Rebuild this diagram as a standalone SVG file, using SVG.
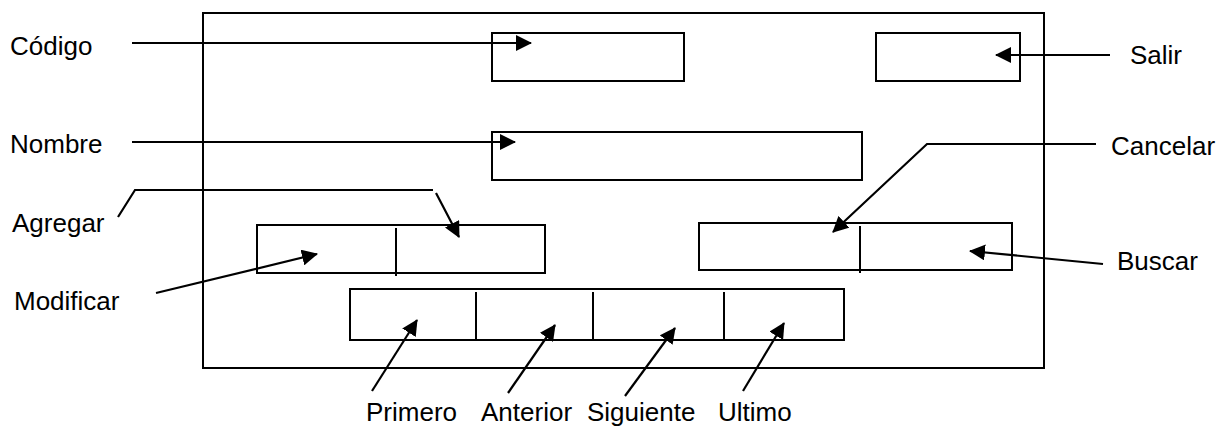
<svg xmlns="http://www.w3.org/2000/svg" width="1220" height="427" viewBox="0 0 1220 427">
  <style>
    .box { fill: none; stroke: #000; stroke-width: 2; }
    .sep { stroke: #000; stroke-width: 2; }
    .conn { fill: none; stroke: #000; stroke-width: 2.2; }
    .lbl { font-family: "Liberation Sans", Arial, sans-serif; font-size: 26px; fill: #000; }
  </style>
  <defs>
    <marker id="arrow" markerUnits="userSpaceOnUse" markerWidth="16" markerHeight="16" refX="15" refY="8" orient="auto">
      <path d="M0,0 L16,8 L0,16 z" fill="#000"/>
    </marker>
  </defs>

  <rect fill="#fff" x="0" y="0" width="1220" height="427"/>

  <!-- form window -->
  <g id="frame">
    <rect class="box" x="203" y="13" width="841" height="355"/>
  </g>

  <!-- fields and buttons -->
  <g id="codigo-field">
    <rect class="box" x="492" y="33" width="192" height="48"/>
  </g>
  <g id="salir-button">
    <rect class="box" x="876" y="33" width="144" height="48"/>
  </g>
  <g id="nombre-field">
    <rect class="box" x="492" y="132" width="370" height="48"/>
  </g>
  <g id="agregar-modificar-buttons">
    <rect class="box" x="257" y="225" width="288" height="48"/>
    <line class="sep" x1="396" y1="228" x2="396" y2="276"/>
  </g>
  <g id="cancelar-buscar-buttons">
    <rect class="box" x="699" y="223" width="313" height="47"/>
    <line class="sep" x1="860" y1="226" x2="860" y2="273"/>
  </g>
  <g id="navigation-buttons">
    <rect class="box" x="350" y="289" width="494" height="51"/>
    <line class="sep" x1="476" y1="292" x2="476" y2="340"/>
    <line class="sep" x1="593" y1="292" x2="593" y2="340"/>
    <line class="sep" x1="724" y1="292" x2="724" y2="340"/>
  </g>

  <!-- labels -->
  <g id="labels">
    <text class="lbl" x="10" y="55">Código</text>
    <text class="lbl" x="10" y="153">Nombre</text>
    <text class="lbl" x="12" y="232">Agregar</text>
    <text class="lbl" x="14" y="310">Modificar</text>
    <text class="lbl" x="1130" y="64">Salir</text>
    <text class="lbl" x="1111" y="155">Cancelar</text>
    <text class="lbl" x="1117" y="270">Buscar</text>
    <text class="lbl" x="366" y="421">Primero</text>
    <text class="lbl" x="481" y="421">Anterior</text>
    <text class="lbl" x="587" y="421">Siguiente</text>
    <text class="lbl" x="718" y="421">Ultimo</text>
  </g>

  <!-- connectors -->
  <g id="connectors">
    <line class="conn" x1="132" y1="43" x2="531" y2="43" marker-end="url(#arrow)"/>
    <line class="conn" x1="132" y1="142" x2="515" y2="142" marker-end="url(#arrow)"/>
    <line class="conn" x1="1110" y1="55" x2="996" y2="55" marker-end="url(#arrow)"/>
    <path class="conn" d="M118,217 L135,190 L433,190 M436,193 L459,237" marker-end="url(#arrow)"/>
    <line class="conn" x1="156" y1="293" x2="317" y2="254" marker-end="url(#arrow)"/>
    <path class="conn" d="M1096,144 L927,144 L833,232" marker-end="url(#arrow)"/>
    <line class="conn" x1="1103" y1="264" x2="970" y2="251" marker-end="url(#arrow)"/>
    <line class="conn" x1="372" y1="391" x2="417" y2="320" marker-end="url(#arrow)"/>
    <line class="conn" x1="508" y1="393" x2="555" y2="325" marker-end="url(#arrow)"/>
    <line class="conn" x1="625" y1="396" x2="675" y2="328" marker-end="url(#arrow)"/>
    <line class="conn" x1="743" y1="391" x2="784" y2="323" marker-end="url(#arrow)"/>
  </g>
</svg>
